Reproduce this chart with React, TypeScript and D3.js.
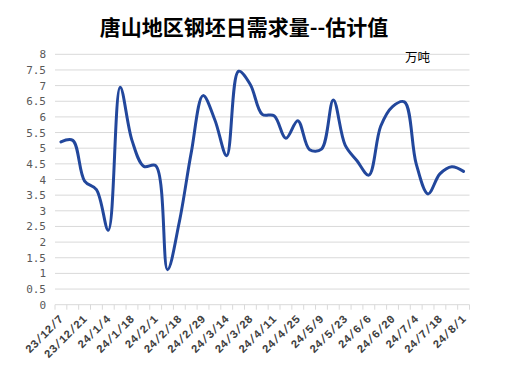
import React from "react";
import * as d3 from "d3";

const categories: string[] = [
  "23/12/7", "23/12/14", "23/12/21", "23/12/28", "24/1/4", "24/1/11", "24/1/18", "24/1/25",
  "24/2/1", "24/2/8", "24/2/18", "24/2/22", "24/2/29", "24/3/7", "24/3/14", "24/3/21",
  "24/3/28", "24/4/3", "24/4/11", "24/4/18", "24/4/25", "24/5/2", "24/5/9", "24/5/16",
  "24/5/23", "24/5/30", "24/6/6", "24/6/13", "24/6/20", "24/6/27", "24/7/4", "24/7/11",
  "24/7/18", "24/7/25", "24/8/1",
];

const demand: number[] = [
  5.2, 5.25, 3.95, 3.68, 2.38, 6.95, 5.25, 4.42, 4.44, 1.12, 2.65, 4.85, 6.68, 5.9, 4.76, 7.46,
  7.03, 6.08, 6.04, 5.32, 5.88, 4.95, 4.97, 6.54, 5.1, 4.6, 4.14, 5.7, 6.33, 6.48, 4.5, 3.54,
  4.18, 4.41, 4.26,
];

const yTicks: number[] = [0, 0.5, 1, 1.5, 2, 2.5, 3, 3.5, 4, 4.5, 5, 5.5, 6, 6.5, 7, 7.5, 8];

const title = "唐山地区钢坯日需求量--估计值";
const unit = "万吨";

export default function App() {
  const W = 508;
  const H = 367;
  const left = 55;
  const right = 469.5;
  const top = 54.3;
  const bottom = 304.7;

  const x = d3.scaleBand<string>().domain(categories).range([left, right]).padding(0);
  const y = d3.scaleLinear().domain([0, 8]).range([bottom, top]);
  const step = x.step();

  const line = d3
    .line<number>()
    .x((_, i) => (x(categories[i]) as number) + step / 2)
    .y((d) => y(d))
    .curve(d3.curveCatmullRom.alpha(0.5));

  const tickEdges = d3.range(categories.length + 1).map((i) => left + i * step);

  return (
    <svg
      width={W}
      height={H}
      style={{ position: "absolute", left: 0, top: 0, background: "#fff" }}
    >
      <rect x={0} y={0} width={W} height={H} fill="#fff" />
      <text
        x={244}
        y={35}
        textAnchor="middle"
        fontFamily="'Noto Sans CJK SC', sans-serif"
        fontWeight="bold"
        fontSize={21}
        fill="#000"
      >
        {title}
      </text>
      {yTicks.map((t) => (
        <g key={t}>
          {t > 0 && (
            <line x1={left} x2={right} y1={y(t)} y2={y(t)} stroke="#d9d9d9" strokeWidth={1} />
          )}
          <text
            x={46}
            y={y(t) + 4}
            textAnchor="end"
            fontFamily="'DejaVu Sans Mono', monospace"
            fontSize={11}
            fill="#595959"
          >
            {t}
          </text>
        </g>
      ))}
      <line x1={left} x2={right} y1={bottom} y2={bottom} stroke="#d9d9d9" strokeWidth={1} />
      {tickEdges.map((tx, i) => (
        <line key={i} x1={tx} x2={tx} y1={bottom} y2={bottom + 5} stroke="#d9d9d9" strokeWidth={1} />
      ))}
      {categories.map((c, i) =>
        i % 2 === 0 ? (
          <text
            key={c}
            transform={`translate(${(x(c) as number) + step / 2 + 3},${bottom + 15}) rotate(-45)`}
            textAnchor="end"
            fontFamily="'Liberation Mono', 'DejaVu Sans Mono', monospace"
            fontWeight="bold"
            fontSize={11.5}
            fill="#404040"
          >
            {c}
          </text>
        ) : null
      )}
      <path d={line(demand) || ""} fill="none" stroke="#22479c" strokeWidth={3} strokeLinejoin="round" strokeLinecap="round" />
      <text
        x={405}
        y={62}
        fontFamily="'Noto Sans CJK SC', sans-serif"
        fontSize={12.5}
        fill="#000"
      >
        {unit}
      </text>
    </svg>
  );
}
